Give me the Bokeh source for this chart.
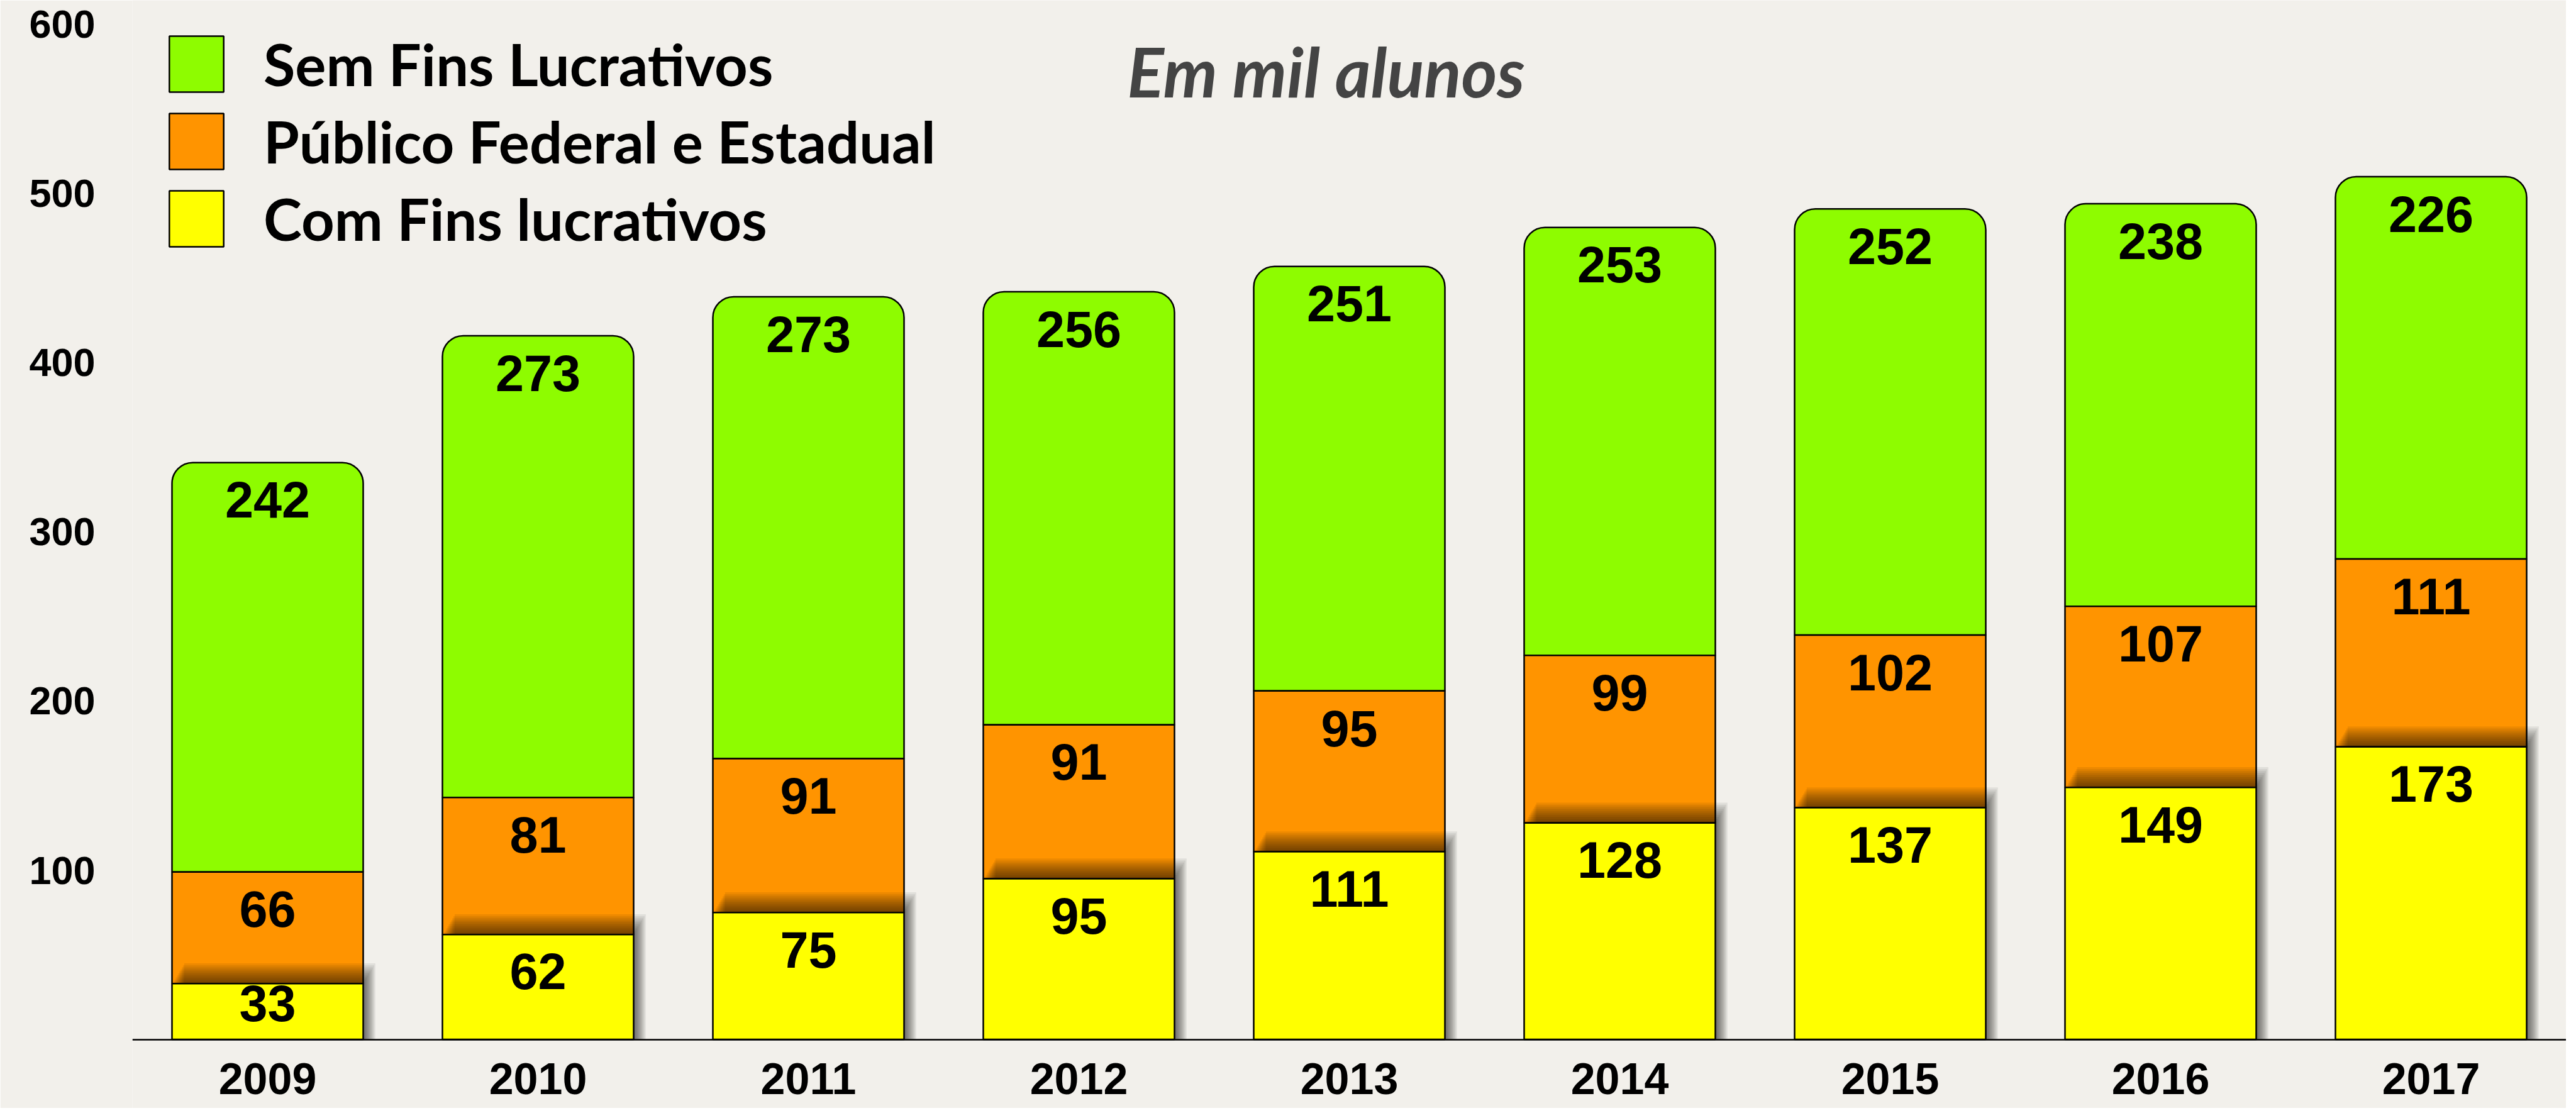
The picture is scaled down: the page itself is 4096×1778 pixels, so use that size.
from bokeh.plotting import figure
from bokeh.models import (ColumnDataSource, FactorRange, Range1d, FixedTicker,
                          Legend, LegendItem, LabelSet, Label)
from bokeh.transform import dodge
from bokeh.embed import file_html
from bokeh.resources import INLINE
from bokeh.core.properties import value

# ---------------- data ----------------
years = ["2009", "2010", "2011", "2012", "2013", "2014", "2015", "2016", "2017"]
com_fins = [33, 62, 75, 95, 111, 128, 137, 149, 173]          # Com Fins lucrativos (yellow, bottom)
publico = [66, 81, 91, 91, 95, 99, 102, 107, 111]             # Público Federal e Estadual (orange)
sem_fins = [242, 273, 273, 256, 251, 253, 252, 238, 226]      # Sem Fins Lucrativos (green, top)
series_names = ["Sem Fins Lucrativos", "Público Federal e Estadual", "Com Fins lucrativos"]
y_ticks = [100, 200, 300, 400, 500, 600]
subtitle = "Em mil alunos"

# ---------------- styles ----------------
BG = "#f2f0eb"
GREEN, ORANGE, YELLOW = "#8efc00", "#ff9400", "#ffff00"
NUM_FONT = "Liberation Sans"
LEG_FONT = "Lato"
BAR_W = 0.707
OUT_W = 2.5
FIG_W, FIG_H = 4080, 1762

# derived stacking columns
top_o = [a + b for a, b in zip(com_fins, publico)]
top_g = [a + b for a, b in zip(top_o, sem_fins)]

def lab_y(top, v):
    return [t - min(22, 0.35 * x) for t, x in zip(top, v)]

src = ColumnDataSource(dict(
    x=years,
    y0=[0] * len(years), y_top=com_fins,
    o_bot=com_fins, o_top=top_o,
    g_bot=top_o, g_top=top_g,
))

p = figure(width=FIG_W, height=FIG_H,
           x_range=FactorRange(*years, range_padding=0),
           y_range=Range1d(-40.7, 614.3),
           output_backend="svg", toolbar_location=None,
           min_border_left=210, min_border_right=0,
           min_border_top=0, min_border_bottom=0,
           background_fill_color=BG, border_fill_color=BG)
p.outline_line_color = None
p.grid.visible = False

# green (top) with rounded top corners
r_g = p.vbar(x="x", width=BAR_W, bottom="g_bot", top="g_top", source=src,
             fill_color=GREEN, line_color="black", line_width=OUT_W,
             border_radius=(33, 33, 0, 0))
# orange
r_o = p.vbar(x="x", width=BAR_W, bottom="o_bot", top="o_top", source=src,
             fill_color=ORANGE, line_color="black", line_width=OUT_W)
# soft shadow cast by the yellow block
for k in range(1, 11):
    sh_src = ColumnDataSource(dict(x=years, y0=[0] * len(years),
                                   y_top=[t + 1.2 * k for t in com_fins]))
    p.vbar(x=dodge("x", 0.0045 * k, range=p.x_range), width=BAR_W,
           bottom="y0", top="y_top", source=sh_src,
           fill_color="black", fill_alpha=0.07, line_color=None)
# yellow (bottom)
r_y = p.vbar(x="x", width=BAR_W, bottom="y0", top="y_top", source=src,
             fill_color=YELLOW, line_color="black", line_width=OUT_W)

# value labels
lab_src = ColumnDataSource(dict(
    x=years * 3,
    y=lab_y(top_g, sem_fins) + lab_y(top_o, publico) + lab_y(com_fins, com_fins),
    t=[str(v) for v in sem_fins + publico + com_fins],
))
p.add_layout(LabelSet(x="x", y="y", text="t", source=lab_src,
                      text_font=value(NUM_FONT), text_font_style="bold",
                      text_font_size="81px", text_color="black",
                      text_align="center", text_baseline="middle"))

# axes
p.yaxis.ticker = FixedTicker(ticks=y_ticks)
p.yaxis.axis_line_color = None
p.yaxis.major_tick_line_color = None
p.yaxis.minor_tick_line_color = None
p.yaxis.major_label_standoff = 53
p.yaxis.major_label_text_font = NUM_FONT
p.yaxis.major_label_text_font_style = "bold"
p.yaxis.major_label_text_font_size = "63px"
p.yaxis.major_label_text_color = "black"

p.xaxis.fixed_location = 0
p.xaxis.axis_line_color = "black"
p.xaxis.axis_line_width = 2.5
p.xaxis.major_tick_line_color = None
p.xaxis.minor_tick_line_color = None
p.xaxis.major_label_standoff = 32
p.xaxis.major_label_text_font = NUM_FONT
p.xaxis.major_label_text_font_style = "bold"
p.xaxis.major_label_text_font_size = "70px"
p.xaxis.major_label_text_color = "black"

# legend (location = bottom-left corner, measured from frame's bottom-left)
legend = Legend(items=[LegendItem(label=series_names[0], renderers=[r_g]),
                       LegendItem(label=series_names[1], renderers=[r_o]),
                       LegendItem(label=series_names[2], renderers=[r_y])],
                location=(48, 1359), orientation="vertical",
                glyph_width=108, glyph_height=111, label_standoff=53,
                spacing=12, padding=0, margin=0,
                border_line_alpha=0, background_fill_alpha=0,
                label_text_font=LEG_FONT, label_text_font_style="bold",
                label_text_font_size="92px", label_text_color="black")
p.add_layout(legend)

# subtitle
p.add_layout(Label(x=1898, y=1650, x_units="screen", y_units="screen",
                   text=subtitle, text_align="center", text_baseline="alphabetic",
                   text_font=LEG_FONT, text_font_style="bold italic",
                   text_font_size="109px", text_color="#444444"))

open("out.html", "w").write(file_html(p, INLINE))
